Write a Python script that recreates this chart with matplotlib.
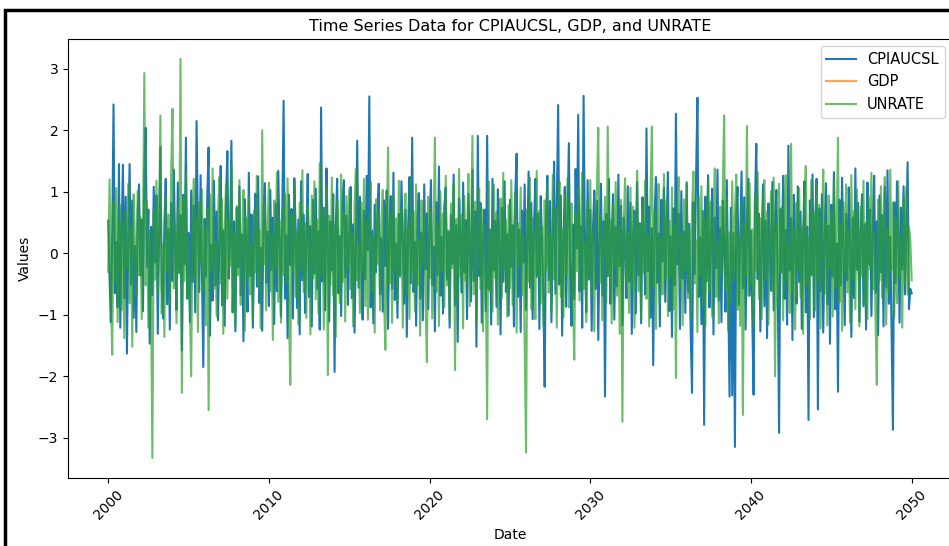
import numpy as np
import pandas as pd
import matplotlib
matplotlib.use("Agg")
import matplotlib.pyplot as plt
from matplotlib.patches import Rectangle

# --- monthly dates, Jan 2000 .. Jan 2050 ---
dates = pd.date_range("2000-01-01", periods=601, freq="MS")

# values (one row per year)
cpiaucsl = [
    0.53, -0.42, -1.12, 0.31, 2.42, -0.65, 0.18, -0.88, 1.45, -1.21, 0.37, 1.44,
    -0.73, 0.92, -1.63, 0.24, 1.45, -0.51, 0.86, -1.05, 0.12, -1.28, 0.67, 1.12,
    -0.36, 0.55, -0.94, 1.27, 2.04, -0.22, 0.71, -1.47, 0.43, -0.68, 1.08, -0.15,
    0.94, -1.31, 0.26, 1.73, -0.57, -1.06, 0.48, 1.21, -0.83, 0.39, -1.24, 0.82,
    -0.45, 1.36, 0.07, -0.92, 1.15, -0.31, 0.62, -1.58, 0.95, -0.18, 1.88, -0.74,
    0.33, -1.12, 1.02, -0.47, 0.78, -0.96, 2.15, 0.41, -0.63, 1.27, -0.29, -1.85,
    0.56, -0.38, 0.91, 1.72, -1.34, 0.14, -0.77, 1.18, -0.52, 0.68, -1.09, 0.25,
    1.42, -0.85, 0.37, -1.18, 0.83, 1.66, -0.41, 0.19, 1.83, -0.96, 0.52, -1.27,
    0.74, -0.23, 1.09, -0.68, 0.31, -1.43, 0.88, 0.12, -0.95, 1.31, -0.37, 0.63,
    -1.21, 0.46, 0.97, -0.54, 1.25, -0.81, 0.09, -1.26, 0.72, 1.14, -0.48, 0.35,
    -0.86, 1.03, -0.27, 0.58, -1.15, 0.81, -0.62, 1.34, 0.21, -1.03, 0.66, 2.48,
    -0.74, 0.29, -1.38, 0.95, -0.19, 0.72, -1.06, 1.22, 0.38, -0.89, 0.55, -1.32,
    1.17, -0.44, 0.63, -0.97, 0.26, 1.29, -0.71, 0.44, -1.19, 0.87, -0.33, 1.05,
    -0.58, 0.36, -1.24, 2.37, -0.46, 0.74, -0.93, 1.38, 0.17, -1.11, 0.52, -0.28,
    0.96, -1.93, 0.43, 1.21, -0.65, 0.28, -1.02, 0.84, 1.19, -0.39, 0.61, -0.84,
    0.32, 1.08, -0.73, 0.47, -1.29, 0.15, 1.83, -0.56, 0.92, -0.17, -1.08, 0.69,
    -0.42, 1.26, 0.05, 2.55, -0.88, 0.37, -1.14, 0.79, -0.31, 0.58, 1.13, -0.67,
    0.24, -0.95, 0.86, -0.21, 1.02, -1.23, 0.49, 0.93, -0.58, 1.31, -0.76, 0.16,
    -1.05, 0.64, -0.36, 1.17, 0.27, -0.82, 0.71, -1.36, 0.43, 1.24, -0.49, 1.88,
    -0.63, 0.19, -1.18, 0.57, 0.98, -0.74, 0.34, -1.09, 1.12, -0.26, 0.65, -0.91,
    0.48, 1.19, -0.52, 0.11, -1.27, 0.83, -0.35, 1.41, -0.69, 0.27, -0.98, 0.76,
    1.07, -0.43, 0.35, -1.21, 0.62, -0.17, 1.28, -0.85, 0.46, -1.44, 0.89, 0.21,
    -0.64, 1.15, -0.31, 0.54, -1.07, 0.97, 0.13, -0.78, 1.36, -0.45, 0.68, -1.52,
    1.91, -0.37, 0.82, -1.13, 0.26, 0.71, -0.94, 1.91, -0.58, 0.39, -1.16, 1.21,
    -0.28, 0.53, -0.87, 1.04, 0.18, -1.32, 0.74, -0.46, 1.17, -0.63, 0.31, -1.01,
    0.87, -0.22, 0.46, -1.19, 0.95, 1.62, -0.71, 0.38, -1.28, 0.69, -0.15, 1.12,
    -0.93, 0.27, 1.33, -0.56, 0.82, -1.07, 0.41, 1.21, -0.38, 0.64, -1.23, 0.93,
    0.16, -0.79, -2.17, 0.57, 1.26, -0.44, 0.85, -1.12, 0.33, 1.49, -0.66, 0.72,
    2.41, -0.51, 0.94, -1.34, 0.23, 1.08, -0.87, 0.61, 1.79, -0.32, -1.18, 0.47,
    -0.75, 1.37, 0.08, 2.25, -0.62, 0.44, -1.21, 2.56, 0.17, -0.96, 1.19, -0.43,
    0.71, -1.26, 0.35, 1.02, -0.58, 0.86, -1.41, 0.27, 1.13, -0.69, 0.52, -2.33,
    0.64, -0.37, 1.21, -0.82, 0.19, 0.96, -1.08, 0.43, -0.54, 1.28, -0.21, 0.77,
    -1.17, 0.58, 0.13, -0.73, 1.09, -0.46, 0.82, -1.31, 0.34, 0.69, -0.98, 1.16,
    -0.36, 0.49, -1.14, 0.91, 0.22, -0.67, 2.03, -0.29, 0.76, -1.05, 0.41, -1.82,
    0.57, 1.24, -0.48, 0.32, -1.19, 0.87, -0.13, 1.06, -0.79, 0.45, 1.32, -0.94,
    0.28, -1.36, 0.73, -0.52, 2.27, -0.18, 0.64, -1.23, 1.01, -0.41, 0.36, -0.97,
    1.14, -0.63, 0.48, -1.28, -2.27, 0.83, -0.34, 1.22, 2.53, -0.71, 0.26, -1.15,
    0.69, -2.79, 0.92, -0.46, 1.27, -0.88, 0.17, 1.05, -1.32, 0.58, -0.24, 1.36,
    -0.77, 0.41, -1.12, 0.86, 0.12, -0.95, 1.19, -0.51, -2.33, 0.74, -2.31, 0.33,
    -3.15, 0.62, 1.08, -0.84, 0.25, 1.33, -0.57, 0.91, -1.24, 0.47, 1.21, -0.69,
    0.36, -1.09, -2.30, 0.78, 1.78, -0.42, 0.64, -1.27, 0.19, 1.12, -0.86, 0.53,
    -1.38, 0.81, 0.27, -0.61, 1.16, -0.93, 0.49, 1.03, -0.55, -2.92, 0.72, -0.31,
    1.26, -0.74, 0.38, -1.16, 1.75, -0.28, 0.57, -1.41, 0.95, 0.14, -0.82, 1.09,
    -0.47, 0.68, -1.23, 0.31, 1.17, -0.96, 0.43, -2.71, 0.86, -0.35, 1.28, -1.04,
    0.52, 1.21, -2.54, 0.73, -0.62, 0.96, -1.29, 0.24, 1.14, -0.83, 0.45, -1.47,
    0.79, -0.38, 1.32, -0.91, 0.16, -2.25, 0.87, -0.52, 1.23, 0.09, -1.17, 0.64,
    -0.44, 1.07, 0.21, -1.36, 0.58, -0.73, 1.38, -0.27, 0.82, -1.11, 0.39, 0.96,
    -0.86, 0.47, -1.24, 1.15, -0.18, 0.71, -1.02, 0.33, 1.26, -0.64, 0.52, -1.33,
    0.94, -0.31, 0.62, -1.19, 1.08, -0.56, 1.35, -0.82, 0.27, -1.28, -2.87, 0.83,
    -0.48, 1.17, 0.35, -1.13, 0.74, -0.26, 1.09, -0.67, 0.42, 1.48, -0.91, -0.58,
    -0.65,
]

unrate = [
    -0.30, 1.20, -0.62, -1.65, 0.84, -0.47, 1.06, -1.12, 0.35, 0.78, -0.93, 0.52,
    -1.38, 0.67, -0.24, 1.13, -0.81, 0.42, -1.52, 0.96, 0.18, -0.69, 1.01, -0.36,
    0.59, -1.07, 0.27, 2.93, -0.52, 0.84, -1.21, 0.36, -0.78, -3.33, 0.71, -0.43,
    1.18, -0.66, 0.41, 2.24, -0.98, 0.15, -1.36, 0.92, -0.28, 0.63, -0.84, 1.27,
    2.35, -0.57, 0.48, -1.14, 0.76, -0.33, 3.16, -2.27, 0.91, -0.45, 1.32, -0.72,
    0.26, -0.94, -2.00, 0.68, 1.21, -0.39, 0.57, -1.28, 0.83, -0.16, 1.04, -0.61,
    0.42, -1.17, 0.73, -2.55, 0.96, -0.27, 1.38, -0.58, 0.19, -1.03, 0.65, 1.24,
    -0.49, 0.88, -1.31, 0.35, 1.12, -0.74, 0.53, -0.21, 1.47, -0.96, 0.31, -1.19,
    0.77, -0.36, 1.19, -0.84, 0.24, 1.03, -1.26, 0.58, -0.43, 0.92, -0.67, 0.14,
    -1.08, 0.69, -0.31, 1.26, -0.55, 0.37, -1.22, 2.00, -0.18, 0.81, -0.93, 0.46,
    1.15, -0.62, 0.28, -1.41, 0.86, -0.24, 1.31, -0.79, 0.52, -1.13, 0.74, -0.35,
    0.97, -0.48, 1.22, -0.87, -2.14, 0.63, -0.29, 1.08, -0.71, 0.36, -1.16, 0.82,
    -0.27, 1.35, -0.63, 0.49, -1.05, 0.78, 0.11, -1.32, 0.94, -0.41, 1.17, -0.75,
    0.55, -0.98, 1.46, -0.34, 0.72, -1.24, 0.38, 1.09, -1.98, 0.61, -0.52, 1.23,
    -0.69, 0.44, -1.36, 0.87, 0.19, -0.81, 1.28, -0.47, 0.66, -1.11, 0.93, -0.23,
    1.04, -0.58, 0.32, -1.19, 0.75, 1.37, -0.44, 0.16, -0.97, 0.83, -0.31, 1.21,
    -0.86, 0.52, -1.08, 0.39, 1.16, -0.64, 0.27, -1.29, 0.88, -0.17, 0.71, -0.93,
    0.46, 1.03, -0.72, -1.57, 0.35, 1.72, -0.49, 0.62, -1.13, 0.94, -0.26, 0.57,
    -0.83, 1.18, -0.39, 0.74, -1.21, 0.28, 0.97, -0.66, 0.43, -1.07, 1.24, -0.32,
    0.68, -0.94, 1.12, -0.51, 0.21, -1.34, 0.86, -0.18, 0.59, -0.77, -1.77, 0.92,
    -0.41, 0.73, -1.06, 0.34, 1.88, -0.63, 0.48, -1.18, 1.01, -0.29, 0.65, -0.88,
    1.26, -0.52, 0.37, -1.09, 0.81, -0.24, 1.14, -1.90, 0.56, -0.73, 1.37, -0.38,
    0.62, -1.22, 0.93, -0.45, 0.18, 1.29, -0.86, 0.41, 1.91, -0.67, 0.84, -1.14,
    0.29, 1.05, -0.58, 0.73, -1.27, 0.46, -0.34, -2.70, 1.17, -0.62, 0.38, -0.95,
    1.12, -0.41, 0.67, -1.16, 0.24, 0.89, -0.73, 1.31, -0.26, 0.54, -1.03, 0.78,
    -0.57, 1.19, -0.84, 0.36, 0.96, -1.29, 0.48, -0.19, 1.07, -0.68, 0.31, -1.42,
    -3.24, 0.72, -0.46, 1.23, -0.91, 0.57, 0.14, -1.07, 1.34, -0.38, 0.69, -0.82,
    0.43, -1.18, 0.86, -0.27, 1.11, -0.64, 0.32, -0.96, 1.27, -0.43, 0.74, -1.21,
    0.58, 1.16, -0.71, 0.39, -1.04, 0.93, -0.36, 1.22, -0.88, 0.26, 0.81, -0.53,
    -1.73, 0.64, -0.29, 1.08, -0.77, 0.47, 1.31, -0.58, 0.18, -1.12, 0.86, -0.42,
    1.19, -0.66, 0.35, -1.27, 0.73, 1.02, 2.04, -0.48, 0.61, -1.09, 0.27, 0.92,
    -0.81, 2.06, -0.37, 0.54, -1.14, 0.79, -0.23, 1.16, -0.69, 0.42, -1.31, 0.87,
    -2.74, 0.51, 1.22, -0.46, 0.33, -0.97, 1.07, -0.58, 0.76, -1.21, 0.38, 1.34,
    -0.62, 0.47, -1.08, 0.84, -0.31, 1.18, -0.74, 0.29, -1.19, 0.96, 2.06, -0.54,
    0.71, -1.23, 0.39, 1.13, -0.82, 0.24, -0.67, 1.29, -0.43, 0.86, -1.02, 0.53,
    -0.38, 1.07, -0.91, 0.45, -2.03, 0.72, 1.24, -0.56, 0.31, -1.17, 0.88, -0.29,
    1.16, -0.73, 0.42, -1.06, 0.67, 1.33, -0.49, 0.21, -1.28, 0.93, -0.36, 1.09,
    -0.84, 0.58, -1.19, 0.37, 1.21, -0.62, 0.84, -1.03, 0.46, 1.38, -0.71, 0.19,
    -1.14, 0.76, -0.33, 1.05, 2.24, -0.58, 0.91, -1.26, 0.34, -0.81, 1.17, -0.45,
    0.63, 1.28, -0.92, 0.27, -1.18, 0.84, -2.63, 0.48, -0.37, 2.07, -0.69, 1.14,
    -0.52, 0.39, -1.21, 0.96, -0.28, 1.32, -0.74, 0.57, -1.07, 0.82, 1.19, -0.43,
    0.68, -1.16, 0.34, 1.01, -0.61, 1.23, -2.00, 0.47, -0.86, 1.13, -0.32, 0.74,
    -1.09, 0.58, 1.27, -0.44, 0.16, -0.97, 1.78, -0.63, 0.39, -1.24, 0.82, -0.27,
    1.06, -0.71, 0.43, -1.31, 0.88, 1.42, -0.52, 0.24, -1.08, 1.19, -0.36, 0.67,
    -0.93, 1.14, -0.47, 0.79, -1.22, 0.31, 1.36, -0.66, 0.52, -1.17, 0.94, -0.24,
    0.71, -1.03, 1.21, -0.58, 0.36, 1.88, -0.79, 0.47, -1.26, 0.83, -0.31, 1.12,
    -0.64, 0.38, -1.13, 1.27, -0.42, 0.69, -0.91, 1.04, 0.22, -1.19, 0.76, -0.37,
    1.18, -0.83, 0.51, -1.07, 0.93, -0.26, 1.31, -0.59, 0.34, -0.98, -2.14, 0.87,
    -0.45, 1.09, -0.72, 0.58, 1.24, -1.16, 0.41, -0.63, 1.36, -0.28, 0.82, -1.04,
    0.57, -0.81, 1.17, -0.39, 0.26, -1.21, 0.94, -0.52, 1.08, -0.67, 0.43, 0.21,
    -0.44,
]

# GDP is quarterly, so after the monthly join there is nothing to draw
gdp = np.full(len(dates), np.nan)

df = pd.DataFrame({"CPIAUCSL": cpiaucsl, "GDP": gdp, "UNRATE": unrate}, index=dates)

plt.rcParams["font.size"] = 10

fig = plt.figure(figsize=(9.49, 5.46), dpi=100)
ax = fig.add_axes([0.0717, 0.1245, 0.9313, 0.8041])

ax.plot(df.index, df["CPIAUCSL"], color="tab:blue", lw=1.5, label="CPIAUCSL")
ax.plot(df.index, df["GDP"], color="tab:orange", lw=1.5, alpha=0.7, label="GDP")
ax.plot(df.index, df["UNRATE"], color="tab:green", lw=1.5, alpha=0.7, label="UNRATE")

ax.set_title("Time Series Data for CPIAUCSL, GDP, and UNRATE", fontsize=11.5)
ax.set_xlabel("Date", fontsize=10)
ax.set_ylabel("Values", fontsize=10)
ax.tick_params(axis="both", labelsize=10)
plt.setp(ax.get_xticklabels(), rotation=45)
ax.legend(loc="upper right", fontsize=10.5)

# screenshot frame around the figure
fig.patches.append(Rectangle((0.0053, -0.05), 1.05, 1.0317, transform=fig.transFigure,
                             fill=False, edgecolor="black", lw=2.5))

fig.savefig("out.png", dpi=100)
